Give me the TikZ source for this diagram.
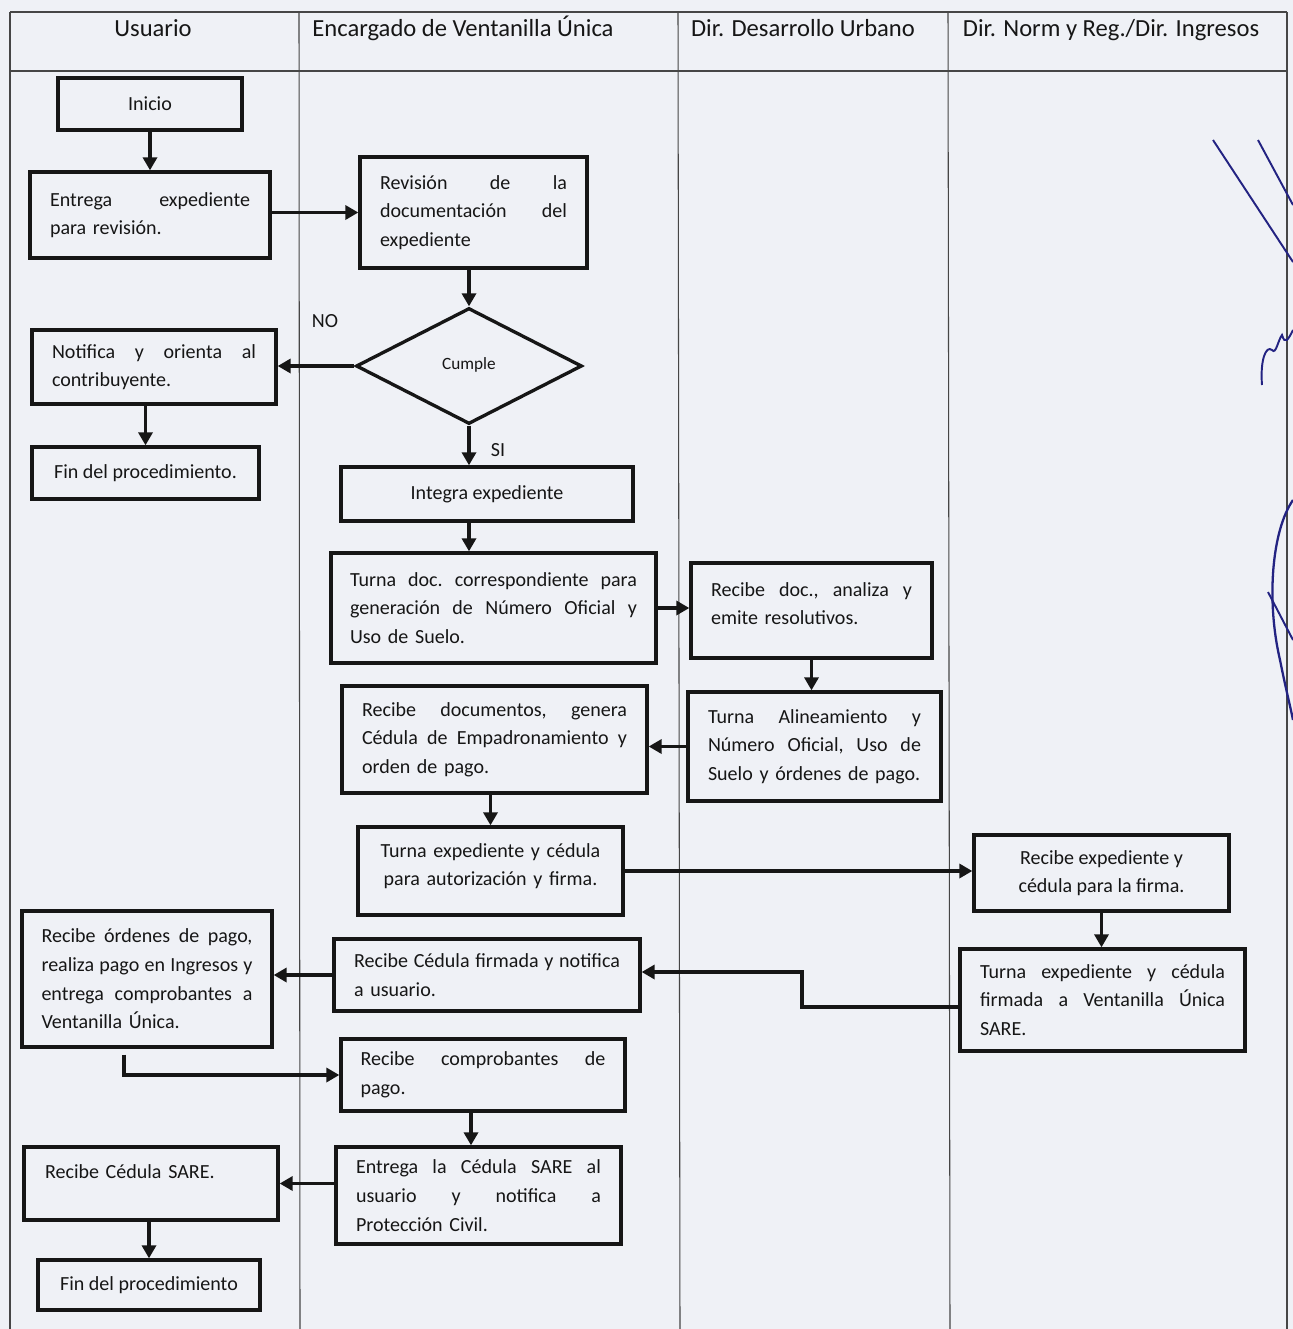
\documentclass[tikz,border=0pt]{standalone}
\usepackage{fontspec}
\setmainfont{Carlito}
\usetikzlibrary{arrows.meta,shapes.geometric,calc}
\definecolor{paper}{RGB}{239,241,246}
\definecolor{rulec}{RGB}{70,70,70}
\definecolor{ink}{RGB}{22,22,22}
\definecolor{pen}{RGB}{35,35,130}
\newcommand\myBody{\fontsize{11.4}{16.3}\selectfont\frenchspacing}
\newcommand\myHead{\fontsize{14}{16}\selectfont}
\newcommand\sline[2]{\leavevmode\hbox to #1{\spaceskip=0.22em plus 1fil\relax #2}}
\tikzset{
  box/.style={draw=ink, line width=1.9pt, inner sep=0pt, font=\myBody, text=ink},
  jbox/.style={box, align=left},
  cbox/.style={box, align=center},
  arr/.style={draw=ink, line width=1.9pt, -{Triangle[length=0.26cm,width=0.28cm]}},
  lane/.style={draw=rulec, line width=0.6pt},
  head/.style={font=\myHead, text=ink, anchor=base},
  lbl/.style={font=\myBody, text=ink, inner sep=0pt},
}
\begin{document}
\begin{tikzpicture}[x=0.02cm, y=-0.02cm]
\fill[paper] (0,0) rectangle (1293,1329);
\useasboundingbox (0,0) rectangle (1293,1329);

% table
\draw[lane, line width=1.2pt] (10,12) -- (1287,12);
\draw[lane, line width=1.2pt] (10,71) -- (1287,71);
\draw[lane] (10,12) -- (10,1329);
\draw[lane] (299,12) -- (300,1329);
\draw[lane] (678,12) -- (680,1329);
\draw[lane] (948,12) -- (950,1329);
\draw[lane] (1287,12) -- (1287,1329);

\node[head] (h1) at (153,36) {Usuario};
\node[head] (h2) at (463,36) {Encargado de Ventanilla Única};
\node[head] (h3) at (803,36) {Dir. Desarrollo Urbano};
\node[head] (h4) at (1111,36) {Dir. Norm y Reg./Dir. Ingresos};

% boxes
\node[cbox, minimum width=3.68cm, minimum height=1.04cm] (inicio) at (150,104) {Inicio};
\node[jbox, minimum width=4.8cm, minimum height=1.72cm, text width=4.0cm] (entrega) at (150,215)
  {\sline{4.0cm}{Entrega expediente}\\para revisión.};
\node[jbox, minimum width=4.54cm, minimum height=2.22cm, text width=3.74cm] (revision) at (473.5,212.5)
  {\sline{3.74cm}{Revisión de la}\\\sline{3.74cm}{documentación del}\\expediente};
\node[diamond, draw=ink, line width=1.9pt, inner sep=0pt, minimum width=4.52cm, minimum height=2.32cm,
  font=\fontsize{9.8}{12}\selectfont, text=ink] (dec) at (469,366) {\raisebox{3pt}{Cumple}};
\node[jbox, minimum width=4.88cm, minimum height=1.48cm, text width=4.08cm] (notifica) at (154,367)
  {\sline{4.08cm}{Notifica y orienta al}\\contribuyente.};
\node[cbox, minimum width=4.54cm, minimum height=1.04cm] (fin1) at (145.5,473)
  {Fin del procedimiento.};
\node[cbox, minimum width=5.84cm, minimum height=1.08cm] (integra) at (487,494) {Integra expediente};
\node[jbox, minimum width=6.5cm, minimum height=2.2cm, text width=5.74cm] (turnadoc) at (493.5,608)
  {\sline{5.74cm}{Turna doc. correspondiente para}\\\sline{5.74cm}{generación de Número Oficial y}\\Uso de Suelo.};
\node[jbox, minimum width=4.82cm, minimum height=1.9cm, text width=4.02cm] (recibedoc) at (811.5,610.5)
  {\sline{4.02cm}{Recibe doc., analiza y}\\emite resolutivos.\par\vspace{0.28cm}};
\node[jbox, minimum width=5.06cm, minimum height=2.18cm, text width=4.26cm] (turnaalin) at (814.5,746.5)
  {\sline{4.26cm}{Turna Alineamiento y}\\\sline{4.26cm}{Número Oficial, Uso de}\\Suelo y órdenes de pago.};
\node[jbox, minimum width=6.1cm, minimum height=2.14cm, text width=5.3cm] (recibedocs) at (494.5,739.5)
  {\sline{5.3cm}{Recibe documentos, genera}\\\sline{5.3cm}{Cédula de Empadronamiento y}\\orden de pago.};
\node[cbox, minimum width=5.3cm, minimum height=1.76cm, text width=4.8cm] (turnaexp) at (490.5,871)
  {Turna expediente y cédula\\para autorización y firma.\par\vspace{0.2cm}};
\node[cbox, minimum width=5.1cm, minimum height=1.52cm] (recibeexp) at (1101.5,873)
  {Recibe expediente y\\cédula para la firma.};
\node[jbox, minimum width=5.7cm, minimum height=2.04cm, text width=4.9cm] (turnafirm) at (1102.5,1000)
  {\sline{4.9cm}{Turna expediente y cédula}\\\sline{4.9cm}{firmada a Ventanilla Única}\\SARE.};
\node[jbox, minimum width=6.12cm, minimum height=1.44cm, text width=5.32cm] (recibecedf) at (487,975)
  {\sline{5.32cm}{Recibe Cédula firmada y notifica}\\a usuario.};
\node[jbox, minimum width=5.0cm, minimum height=2.72cm, text width=4.22cm] (recibeord) at (147,979)
  {\sline{4.22cm}{Recibe órdenes de pago,}\\\sline{4.22cm}{realiza pago en Ingresos y}\\\sline{4.22cm}{entrega comprobantes a}\\Ventanilla Única.};
\node[jbox, minimum width=5.68cm, minimum height=1.44cm, text width=4.9cm] (recibecomp) at (483,1075)
  {\sline{4.9cm}{Recibe comprobantes de}\\pago.};
\node[jbox, minimum width=5.7cm, minimum height=1.94cm, text width=4.9cm] (entregasare) at (478.5,1195.5)
  {\sline{4.9cm}{Entrega la Cédula SARE al}\\\sline{4.9cm}{usuario y notifica a}\\Protección Civil.};
\node[jbox, minimum width=5.08cm, minimum height=1.46cm, text width=4.24cm] (recibesare) at (151,1183.5)
  {Recibe Cédula SARE.\par\vspace{0.46cm}};
\node[cbox, minimum width=4.44cm, minimum height=1.0cm] (fin2) at (149,1285) {Fin del procedimiento};

% labels
\node[lbl] (lblno) at (325,321) {NO};
\node[lbl] (lblsi) at (498,450) {SI};

% connectors
\draw[arr] (inicio) -- (entrega);
\draw[arr] (entrega.east |- revision.west) -- (revision.west);
\draw[arr] (revision.south -| dec.north) -- (dec.north);
\draw[arr] (dec.west) -- (dec.west -| notifica.east);
\draw[arr] (fin1.north |- notifica.south) -- (fin1.north);
\draw[arr] (dec.south) -- (dec.south |- integra.north);
\draw[arr] (dec.south |- integra.south) -- (dec.south |- turnadoc.north);
\draw[arr] (turnadoc.east) -- (turnadoc.east -| recibedoc.west);
\draw[arr] (recibedoc.south) -- (recibedoc.south |- turnaalin.north);
\draw[arr] (turnaalin.west) -- (turnaalin.west -| recibedocs.east);
\draw[arr] (recibedocs.south -| turnaexp.north) -- (turnaexp.north);
\draw[arr] (turnaexp.east) -- (turnaexp.east -| recibeexp.west);
\draw[arr] (recibeexp.south) -- (recibeexp.south |- turnafirm.north);
\coordinate (bend) at (802,972);
\draw[arr] ([yshift=-0.14cm]turnafirm.west) -| (bend) -- (bend -| recibecedf.east);
\draw[arr] (recibecedf.west) -- (recibecedf.west -| recibeord.east);
\draw[arr] ([xshift=-0.46cm,yshift=-0.12cm]recibeord.south) |- (recibecomp.west);
\draw[arr] ([xshift=-0.24cm]recibecomp.south) -- ([xshift=-0.24cm]recibecomp.south |- entregasare.north);
\draw[arr] (recibesare.east -| entregasare.west) -- (recibesare.east);
\draw[arr] (recibesare.south -| fin2.north) -- (fin2.north);

% signature strokes
\draw[pen, line width=1.1pt] (1213,140) -- (1293,262);
\draw[pen, line width=1.1pt] (1258,140) -- (1293,205);
\draw[pen, line width=1.1pt] (1262,385) .. controls (1260,360) and (1266,345) .. (1272,350)
  .. controls (1276,355) and (1278,340) .. (1282,335) .. controls (1285,345) and (1288,340) .. (1293,330);
\draw[pen, line width=1.3pt] (1293,500) .. controls (1272,530) and (1266,600) .. (1280,660)
  .. controls (1286,690) and (1290,705) .. (1293,720);
\draw[pen, line width=1.1pt] (1268,592) -- (1293,640);
\end{tikzpicture}
\end{document}
